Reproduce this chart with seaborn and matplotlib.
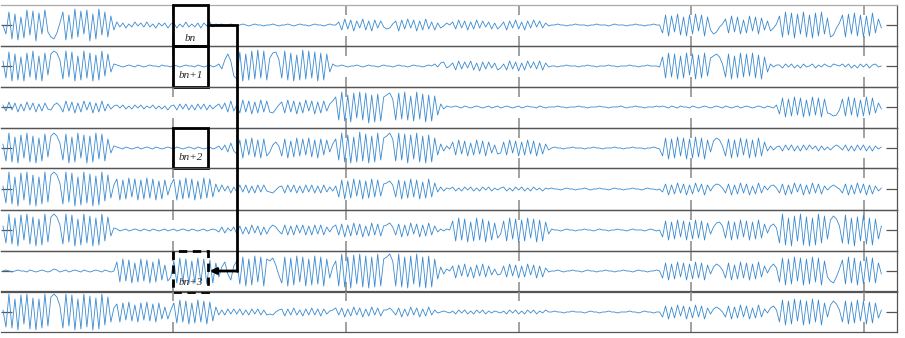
import numpy as np
import pandas as pd
import matplotlib
matplotlib.use("Agg")
import matplotlib.pyplot as plt
import seaborn as sns
from matplotlib.patches import Rectangle, FancyArrowPatch
from matplotlib.lines import Line2D

# ---------------- data (amplitude values) ----------------
FS = 57.6      # samples per second
T0 = 0.013     # time of first sample

row1 = [0,-9,13,-14,11,-15,8,-13,15,-10,14,-16,12,-9,15,-7,
        -12,-14,-8,2,
        13,-15,10,-14,16,-12,14,-9,15,-16,11,-14,16,-10,13,-12,
        9,-5,
        3,-2,2,-3,1,-2,3,-1,2,-2,3,-2,1,-3,2,-1,2,
        -3,1,
        2,-3,1,-2,3,-2,1,-2,2,-3,2,-1,3,-2,1,
        0,1,-1,0,1,0,-1,
        0,1,0,-1,0,1,0,0,-1,0,
        0,1,0,-1,
        0,0,1,0,-1,0,1,0,0,-1,0,1,0,0,-1,0,1,
        0,0,
        3,-5,6,-4,5,-6,4,-3,6,-5,4,-6,5,-3,4,-2,
        -4,-3,1,
        4,-6,5,-4,6,-3,5,-6,4,-5,6,-4,3,-5,2,
        -3,-1,2,0,
        3,-4,5,-3,4,-5,3,-4,5,-3,4,-2,3,-4,2,
        -4,-1,
        3,-5,4,-3,5,-4,3,-5,4,-3,5,-2,4,-3,2,-1,
        0,0,1,0,0,-1,0,0,1,0,0,0,-1,0,0,1,0,0,0,-1,0,1,0,0,0,-1,0,0,1,0,0,-1,0,0,1,0,0,
        -8,10,-11,9,-7,11,-10,8,-11,10,-9,11,-6,10,-11,8,-5,
        -9,-7,-2,1,
        6,-8,9,-7,8,-9,5,-8,9,-6,8,-9,7,-5,4,
        -6,-3,1,
        9,-12,13,-10,12,-13,11,-9,13,-12,10,-13,12,-11,13,-9,7,
        -12,-10,-3,2,
        10,-12,11,-9,12,-11,10,-12,9,-11,12,-8,6,-3]

row2 = [5,-12,14,-15,12,-14,9,-15,13,-11,15,-14,10,-15,13,-9,
        12,15,13,6,
        -13,15,-11,14,-15,10,-14,15,-12,13,-15,11,-14,15,-10,12,
        -6,2,
        1,0,-1,0,1,0,-1,1,0,-1,0,1,0,0,-1,1,0,
        0,-1,
        1,0,-1,0,1,0,0,-1,1,0,-1,0,1,-1,0,
        2,-3,6,12,5,-10,-13,
        14,-15,12,-14,15,-13,16,-12,15,-14,
        8,13,14,7,
        -12,15,-14,13,-15,11,-14,16,-13,15,-12,14,-15,13,-14,12,-6,
        2,0,
        0,1,0,-1,0,0,1,0,-1,0,1,0,0,-1,0,1,
        0,0,-1,
        0,1,0,0,-1,0,1,0,0,-1,0,1,0,2,-1,
        3,4,-2,0,
        3,-4,5,-3,4,-2,5,-4,3,-5,4,-3,4,-2,3,
        -4,-2,
        2,-4,5,-3,4,-5,3,-4,5,-2,4,-3,5,-4,3,-1,
        0,0,-1,0,0,1,0,0,0,-1,0,0,1,0,0,-1,0,0,0,1,0,0,-1,0,0,0,1,0,0,-1,0,0,1,0,0,0,-1,
        9,-12,13,-11,12,-13,10,-12,13,-9,12,-13,11,-12,13,-10,8,
        10,12,9,2,
        -11,12,-13,10,-12,13,-11,12,-10,13,-12,11,-13,9,-6,
        2,-1,1,
        1,-2,2,-1,2,-2,1,-2,2,-1,0,2,-2,1,-1,2,0,
        -1,2,1,0,
        2,-1,2,-2,1,-2,2,-1,2,-2,1,2,-1,0]

row3 = [2,-4,5,-3,4,-5,3,-4,5,-3,4,-5,3,-4,4,-2,
        -3,2,4,1,
        -5,6,-4,5,-6,4,-5,6,-3,5,-6,4,-5,6,-4,3,
        -2,1,
        2,-1,2,-2,1,-2,2,-1,2,-2,1,-1,2,-2,1,-2,1,
        -3,1,
        2,-3,3,-2,3,-3,2,-3,3,-2,3,-3,2,-2,1,
        3,-2,4,-5,6,-4,2,
        -6,7,-5,6,-7,5,-6,7,-5,6,
        -5,-6,-2,2,
        5,-6,7,-5,6,-7,5,-6,7,-4,6,-7,5,-6,6,-4,3,
        6,10,
        -13,15,-14,12,-15,14,-11,15,-13,14,-16,12,-15,13,-14,10,
        12,14,8,
        -13,14,-12,15,-13,11,-14,15,-12,13,-15,12,-14,11,-8,
        3,-2,1,0,
        0,1,0,-1,1,0,-1,0,1,0,-1,0,1,-1,0,
        1,-1,
        0,1,0,-1,0,1,-1,0,1,0,0,-1,1,0,-1,0,
        0,0,1,0,0,-1,0,0,0,1,0,0,-1,0,0,0,1,0,0,-1,0,0,0,1,0,-1,0,0,1,0,0,-1,0,0,0,1,0,
        1,0,-1,1,0,-1,1,0,0,-1,1,0,-1,0,1,0,-1,
        0,1,0,-1,
        1,0,-1,0,1,-1,0,1,0,-1,0,1,0,-1,1,
        0,-1,2,
        -7,9,-10,8,-9,10,-8,9,-10,7,-9,10,-8,9,-10,8,-6,
        -7,-9,-8,-3,
        8,-9,10,-8,9,-10,7,-9,10,-8,9,-6,4,-2]

row4 = [4,-13,15,-14,11,-15,13,-10,15,-14,12,-15,10,-13,14,-9,
        12,15,12,5,
        -12,14,-15,11,-14,15,-10,13,-15,12,-14,15,-11,14,-13,9,
        -5,2,
        1,0,-1,1,0,-1,0,1,-1,0,1,0,-1,1,0,-1,0,
        1,0,
        -1,1,0,-1,0,1,0,-1,1,0,-1,0,1,-1,0,
        2,-2,3,-4,5,-3,-6,
        8,-10,9,-7,10,-9,8,-10,9,-8,
        -4,3,6,2,
        -8,9,-10,7,-9,10,-8,9,-7,10,-9,8,-10,9,-7,8,-4,
        4,9,
        -12,15,-14,13,-15,11,-14,16,-13,14,-15,12,-14,15,-12,10,
        12,15,9,
        -13,15,-12,14,-15,13,-11,15,-14,12,-15,13,-14,10,-7,
        4,-3,2,-1,
        6,-7,8,-6,7,-8,5,-7,8,-6,7,-8,6,-5,3,
        -6,-5,
        6,-7,8,-5,7,-8,6,-7,8,-6,7,-8,5,-6,4,-2,
        0,1,0,0,-1,0,0,1,0,0,0,-1,0,0,1,0,0,-1,0,0,0,1,0,0,-1,0,0,1,0,0,0,-1,0,0,1,0,-1,
        -8,10,-11,9,-10,11,-8,10,-11,9,-10,11,-9,10,-11,8,-4,
        7,10,8,2,
        -8,9,-10,8,-9,10,-7,9,-10,8,-9,10,-8,6,-3,
        2,-2,1,
        2,-3,3,-2,3,-3,2,-3,3,-2,3,-1,2,-3,2,-2,1,
        -2,1,3,1,
        -2,3,-3,2,-3,3,-2,3,-3,2,-3,2,-1,1]

row5 = [3,-14,17,-15,12,-17,16,-11,17,-16,14,-17,12,-15,17,-13,
        14,17,14,6,
        -15,17,-13,16,-17,12,-16,17,-14,15,-17,13,-16,17,-12,14,
        -9,4,
        10,-11,9,-10,11,-8,10,-11,9,-10,11,-9,10,-11,8,-10,9,
        -6,4,
        10,-11,9,-10,11,-9,10,-11,8,-10,11,-9,10,-8,5,
        -3,4,-2,3,-4,2,-3,
        4,-3,4,-4,3,-4,4,-3,4,-2,
        -3,-4,-1,2,
        3,-4,4,-3,4,-4,3,-4,4,-3,4,-4,3,-4,4,-3,2,
        -2,3,
        -8,9,-10,8,-9,10,-7,9,-10,8,-9,10,-8,9,-7,5,
        6,8,4,
        -8,9,-10,8,-9,10,-8,9,-10,7,-9,10,-8,6,-3,
        2,-2,1,0,
        2,-2,1,-2,2,-1,2,-2,1,-2,2,-1,2,-2,1,
        -1,1,
        2,-2,1,-2,2,-1,2,-2,1,-2,2,-1,1,-2,1,0,
        1,0,0,-1,0,1,0,0,-1,0,0,1,0,-1,0,0,1,0,0,-1,0,1,0,0,-1,0,0,1,0,0,-1,0,1,0,0,-1,0,
        -3,5,-6,4,-5,6,-4,5,-6,4,-5,6,-3,5,-6,4,-2,
        3,5,4,1,
        -4,5,-6,4,-5,6,-4,5,-6,3,-5,6,-4,3,-1,
        3,4,1,
        -4,5,-6,4,-5,6,-3,5,-6,4,-5,6,-4,5,-5,3,-1,
        2,4,2,0,
        -4,5,-6,4,-5,6,-4,5,-6,4,-5,3,-2,1]

row6 = [4,-13,16,-14,12,-16,15,-10,16,-14,13,-16,11,-15,16,-12,
        13,16,13,5,
        -14,16,-12,15,-16,11,-15,16,-13,14,-16,12,-15,16,-11,13,
        -6,2,
        1,-1,0,1,-1,0,1,0,-1,1,0,-1,1,0,-1,0,1,
        -1,0,
        1,-1,0,1,0,-1,1,0,-1,0,1,-1,0,1,0,
        -2,3,-3,2,-1,3,-4,
        4,-4,3,-4,5,-3,4,-5,3,-4,
        2,5,3,-1,
        -4,5,-5,4,-5,5,-3,5,-5,4,-5,5,-4,5,-5,3,-2,
        3,5,
        -5,6,-7,5,-6,7,-5,6,-7,4,-6,7,-5,6,-6,4,
        5,7,3,
        -5,6,-7,5,-6,7,-4,6,-7,5,-6,7,-5,4,-2,
        1,-1,1,0,
        9,-11,12,-10,11,-12,8,-11,12,-10,11,-12,9,-10,7,
        -8,-4,
        9,-11,12,-9,11,-12,10,-11,12,-8,11,-12,10,-11,8,-4,
        1,0,0,-1,0,1,0,0,-1,0,0,1,0,0,-1,0,1,0,0,-1,0,0,1,0,0,-1,0,1,0,0,0,-1,0,1,0,-1,0,
        -7,9,-10,8,-9,10,-7,9,-10,8,-9,10,-8,9,-10,7,-4,
        3,7,8,4,
        -8,9,-10,8,-9,10,-7,9,-10,8,-9,10,-8,6,-3,
        4,6,2,
        -13,16,-15,12,-16,14,-11,16,-15,13,-16,12,-15,16,-13,14,-9,
        10,14,11,4,
        -13,15,-14,12,-16,13,-11,15,-14,12,-15,11,-9,4]

row7 = [0,1,0,-1,0,1,0,0,-1,1,0,-1,0,1,0,-1,
        0,2,1,-1,
        0,1,-1,0,1,0,-1,1,0,-1,0,1,0,-1,1,0,
        -1,0,
        9,-11,12,-10,11,-12,8,-11,12,-10,11,-12,9,-11,12,-9,6,
        -10,-6,
        10,-12,13,-11,12,-13,10,-12,13,-11,12,-13,11,-12,8,
        -6,4,9,-3,-9,5,10,
        -13,14,-15,12,-14,15,-11,14,-15,12,
        10,13,6,-4,
        -12,14,-15,13,-14,15,-11,14,-15,12,-14,15,-13,14,-15,12,-7,
        4,10,
        -15,17,-16,14,-17,16,-13,17,-16,15,-17,14,-16,17,-15,12,
        14,17,10,
        -15,17,-16,14,-17,15,-13,17,-16,14,-17,15,-16,12,-8,
        4,-3,2,0,
        5,-7,6,-5,7,-6,4,-7,6,-5,7,-6,5,-4,2,
        -4,-3,
        5,-6,7,-5,6,-7,5,-6,7,-4,6,-7,5,-6,3,-1,
        0,0,1,0,-1,0,0,1,0,0,-1,0,1,0,0,-1,0,0,1,0,0,-1,0,0,1,0,0,-1,0,1,0,0,-1,0,0,1,0,
        -7,8,-9,7,-8,9,-6,8,-9,7,-8,9,-7,8,-9,6,-3,
        4,7,5,1,
        -7,8,-9,6,-8,9,-7,8,-9,7,-8,9,-6,5,-2,
        4,7,3,
        -11,13,-14,12,-13,14,-10,13,-14,12,-13,14,-11,13,-14,10,-6,
        -10,-12,-6,2,
        11,-13,14,-12,13,-14,10,-13,14,-11,13,-12,8,-3]

row8 = [2,-15,18,-16,13,-18,17,-12,18,-17,14,-18,13,-16,18,-14,
        15,18,15,6,
        -16,18,-14,17,-18,13,-17,18,-15,16,-18,14,-17,18,-13,15,
        -10,4,
        8,-10,9,-8,10,-9,7,-10,9,-8,10,-9,8,-10,9,-7,5,
        -7,2,
        9,-11,12,-10,11,-12,9,-11,12,-10,11,-12,10,-9,5,
        -3,2,-3,3,-2,3,-2,
        3,-3,2,-3,3,-2,3,-3,2,-3,
        -2,-3,0,2,
        3,-4,3,-3,4,-3,2,-4,3,-3,4,-3,3,-4,3,-2,1,
        2,4,
        -3,4,-5,3,-4,5,-3,4,-5,3,-4,5,-3,4,-4,2,
        2,4,1,
        -3,4,-5,3,-4,5,-3,4,-5,3,-4,5,-3,2,-1,
        0,1,0,-1,
        1,-2,2,-1,2,-2,1,-2,2,-1,2,-2,1,-1,1,
        0,-1,
        1,-2,2,-1,2,-2,1,-2,2,-1,2,-2,1,-1,2,0,
        0,1,0,0,-1,0,0,1,0,0,0,-1,0,1,0,0,-1,0,0,1,0,0,-1,0,0,0,1,0,0,-1,0,1,0,0,-1,0,0,
        -5,6,-7,5,-6,7,-4,6,-7,5,-6,7,-5,6,-7,4,-2,
        3,5,3,0,
        -5,6,-7,5,-6,7,-5,6,-7,4,-6,7,-5,3,-1,
        4,6,2,
        -10,12,-13,11,-12,13,-9,12,-13,11,-12,13,-10,12,-13,9,-5,
        7,11,8,2,
        -10,11,-12,10,-11,12,-9,11,-12,10,-11,9,-6,2]

rows = [row1, row2, row3, row4, row5, row6, row7, row8]

tick_positions = [1, 2, 3, 4, 5]
block_start, block_width = 1.0, 0.2
block_labels = ["bn", "bn+1", "bn+2", "bn+3"]
block_rows = [0, 1, 3, 6]
block_label_y = [0.16, 0.26, 0.26, 0.23]
arrow_x = 1.37

# ---------------- figure ----------------
sns.set_theme(style="white")
plt.rcParams['font.family'] = ['DejaVu Sans']

W, H = 905, 338
fig = plt.figure(figsize=(W / 100, H / 100), dpi=100)
gs = fig.add_gridspec(8, 1, left=0.7 / W, right=897 / W,
                      top=1 - 4.5 / H, bottom=1 - 332.5 / H, hspace=0)
axes = [fig.add_subplot(gs[i]) for i in range(8)]

line_color = "#3a8ad0"
for i, (ax, vals) in enumerate(zip(axes, rows)):
    df = pd.DataFrame({"t": T0 + np.arange(len(vals)) / FS, "v": vals})
    sns.lineplot(data=df, x="t", y="v", ax=ax, color=line_color,
                 linewidth=0.6, estimator=None, sort=False)
    ax.set_xlim(0, 5.19)
    ax.set_ylim(-20.5, 20.5)
    ax.set_xticks(tick_positions)
    ax.set_yticks([0])
    ax.set_xticklabels([])
    ax.set_yticklabels([])
    ax.set_xlabel("")
    ax.set_ylabel("")
    ax.tick_params(axis='x', which='both', direction='in', top=True, bottom=True,
                   length=7.2, width=1.3, color='#9a9a9a')
    ax.tick_params(axis='y', which='both', direction='in', left=True, right=True,
                   length=8, width=0.9, color='#555555')
    for name, s in ax.spines.items():
        s.set_color('#555555')
        s.set_linewidth(0.9)
    ax.spines['left'].set_visible(False)
    ax.patch.set_alpha(0)
axes[0].spines['top'].set_color('#aaaaaa')

# ---------------- blocks ----------------
for lab, r, ly in zip(block_labels, block_rows, block_label_y):
    ax = axes[r]
    dashed = (r == block_rows[-1])
    rect = Rectangle((block_start, 0), block_width, 1,
                     transform=ax.get_xaxis_transform(), fill=False,
                     edgecolor='black', linewidth=2.0, clip_on=False, zorder=6,
                     linestyle=(0, (3, 2)) if dashed else '-')
    ax.add_patch(rect)
    ax.text(block_start + block_width / 2, ly, lab, transform=ax.get_xaxis_transform(),
            ha='center', va='center', fontsize=8, style='italic',
            family=['Liberation Serif', 'DejaVu Serif'], zorder=7)

# ---------------- arrow ----------------
def to_fig(ax, x, y):
    disp = ax.transData.transform((x, y))
    return fig.transFigure.inverted().transform(disp)

p0 = to_fig(axes[block_rows[0]], block_start + block_width, 0)
p1 = to_fig(axes[block_rows[0]], arrow_x, 0)
p2 = to_fig(axes[block_rows[-1]], arrow_x, 0)
p3 = to_fig(axes[block_rows[-1]], block_start + block_width + 0.01, 0)
fig.add_artist(Line2D([p0[0], p1[0], p2[0]], [p0[1], p1[1], p2[1]],
                      transform=fig.transFigure, color='black', linewidth=2.0,
                      solid_joinstyle='miter', zorder=8))
fig.add_artist(FancyArrowPatch(p2, p3, transform=fig.transFigure,
                               arrowstyle='-|>', mutation_scale=9, linewidth=2.0,
                               color='black', shrinkA=0, shrinkB=0, zorder=8))

fig.savefig("out.png", dpi=100)
